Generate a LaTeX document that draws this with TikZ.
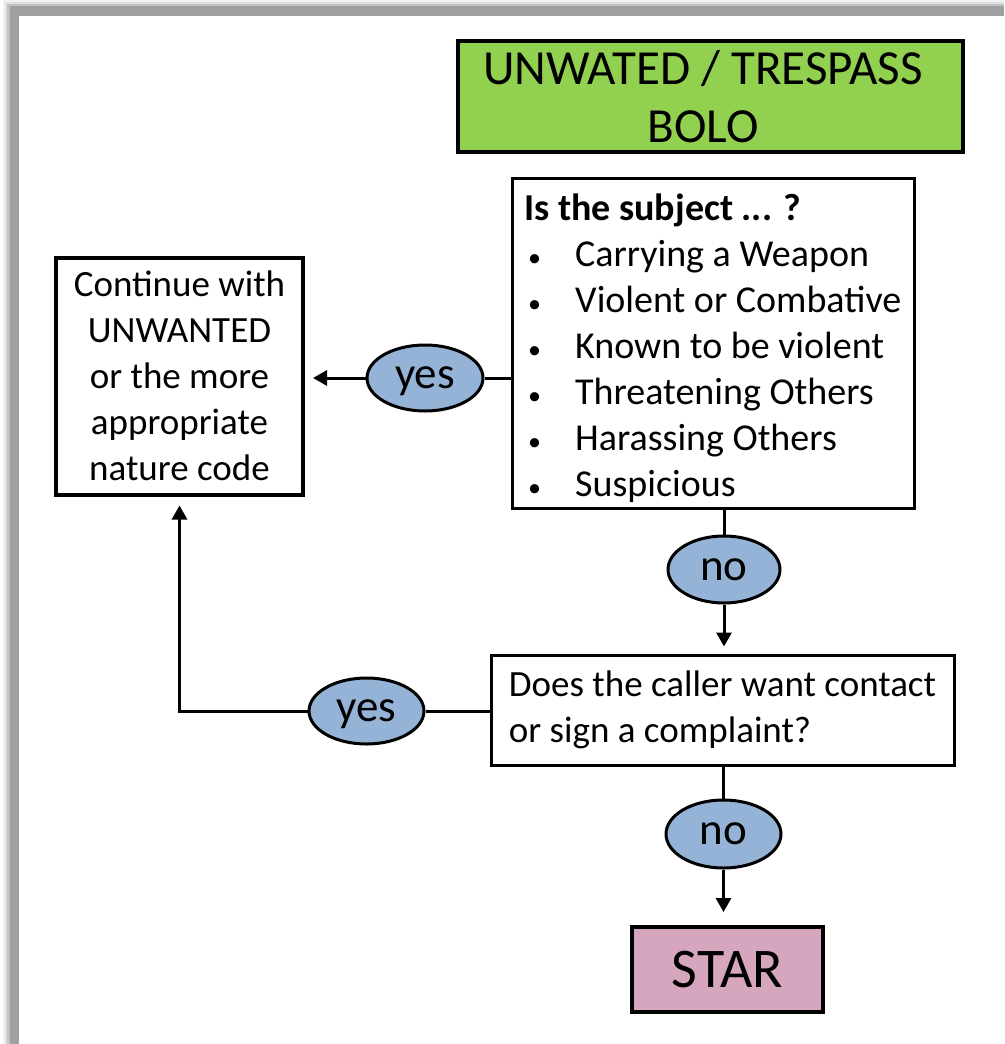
\documentclass[tikz,border=0pt]{standalone}
\usepackage{fontspec}
\setmainfont{Carlito}
\usetikzlibrary{arrows.meta,shapes.geometric}
\definecolor{frameg}{RGB}{160,160,160}
\definecolor{titlegreen}{RGB}{146,208,80}
\definecolor{ovalblue}{RGB}{149,179,215}
\definecolor{starpink}{RGB}{213,166,189}
\begin{document}
\begin{tikzpicture}[x=1pt,y=-1pt,
  box/.style={draw=black, rectangle, inner sep=0pt},
  oval/.style={draw=black, ellipse, fill=ovalblue, line width=3pt, inner sep=0pt, text depth=0pt, font=\fontsize{45}{54}\selectfont},
  conn/.style={line width=3pt},
  arr/.style={line width=3pt, -{Triangle[length=14pt,width=15pt]}},
  txt/.style={font=\fontsize{38}{46}\selectfont, inner sep=0pt, anchor=base west},
  bul/.style={font=\fontsize{26}{30}\selectfont, inner sep=0pt, anchor=base west},
]
\useasboundingbox (0,0) rectangle (1004,1044);
% frame with shadow
\fill[black!5] (3,0) rectangle (1004,1044);
\fill[black!12] (5,2) rectangle (1004,1044);
\fill[black!24] (7,4) rectangle (1004,1044);
\fill[frameg] (10,6) rectangle (1004,1044);
\fill[white] (19,16) rectangle (1004,1044);

% title
\node[box, line width=4pt, fill=titlegreen, minimum width=505pt, minimum height=111pt] (title) at (710.5,96.5) {};
\node[inner sep=0pt, align=center, font=\fontsize{49}{58}\selectfont] (titletext) at (703,97) {UNWATED / TRESPASS\\BOLO};

% question box
\node[box, line width=3pt, minimum width=402pt, minimum height=330pt] (q) at (713,343) {};
\node[txt, font=\fontsize{38}{46}\selectfont\bfseries] (qh) at (524,220) {Is the subject ... ?};
\node[bul] (b1) at (528,266) {•};
\node[txt] (i1) at (575,266) {Carrying a Weapon};
\node[bul] (b2) at (528,312) {•};
\node[txt] (i2) at (575,312) {Violent or Combative};
\node[bul] (b3) at (528,358) {•};
\node[txt] (i3) at (575,358) {Known to be violent};
\node[bul] (b4) at (528,404) {•};
\node[txt] (i4) at (575,404) {Threatening Others};
\node[bul] (b5) at (528,450) {•};
\node[txt] (i5) at (575,450) {Harassing Others};
\node[bul] (b6) at (528,496) {•};
\node[txt] (i6) at (575,496) {Suspicious};

% continue box
\node[box, line width=4pt, minimum width=247pt, minimum height=237pt, align=center, font=\fontsize{37}{46}\selectfont] (cont) at (179.5,376) {Continue with\\UNWANTED\\or the more\\appropriate\\nature code};

% ovals
\node[oval, minimum width=116pt, minimum height=66pt] (yes1) at (425,378) {yes};
\node[oval, minimum width=112pt, minimum height=67pt] (no1) at (724,569.5) {no};
\node[oval, minimum width=115pt, minimum height=66pt] (yes2) at (366.5,711) {yes};
\node[oval, minimum width=115pt, minimum height=68pt] (no2) at (723.5,834) {no};

% caller box
\node[box, line width=3pt, minimum width=463pt, minimum height=110pt, align=left, font=\fontsize{37}{46}\selectfont] (call) at (722.5,710) {Does the caller want contact\\or sign a complaint?};

% star
\node[box, line width=4pt, fill=starpink, minimum width=191pt, minimum height=85pt, font=\fontsize{56}{67}\selectfont] (star) at (727.5,969.5) {STAR};

% connectors
\draw[conn] (yes1.east -| q.west) -- (yes1.east);
\draw[arr, shorten >=8pt] (yes1.west) -- (yes1.west -| cont.east);
\draw[conn] (no1.north |- q.south) -- (no1.north);
\draw[arr, shorten >=7pt] (no1.south) -- (no1.south |- call.north);
\draw[conn] (yes2.east -| call.west) -- (yes2.east);
\draw[arr, shorten >=9pt] (yes2.west) -| (cont.south);
\draw[conn] (no2.north |- call.south) -- (no2.north);
\draw[arr, shorten >=13pt] (no2.south) -- (no2.south |- star.north);
\end{tikzpicture}
\end{document}
